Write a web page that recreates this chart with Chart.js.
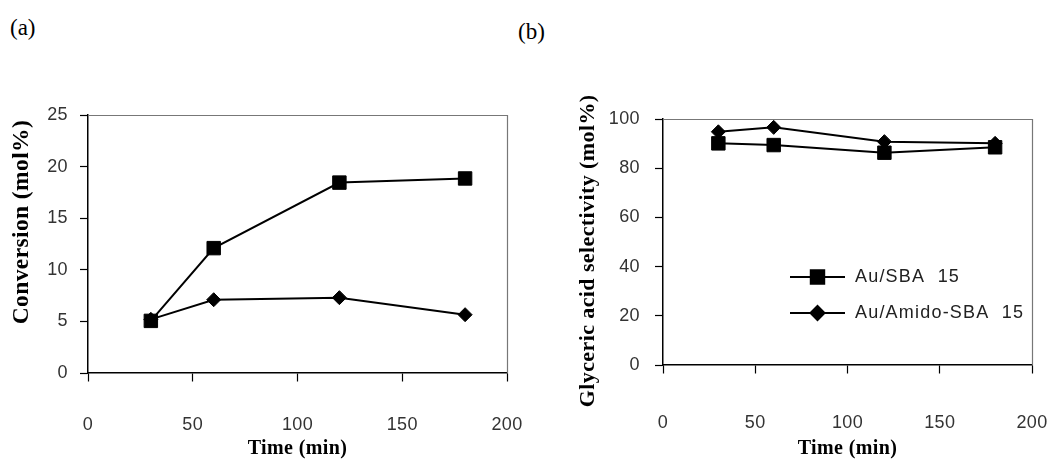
<!DOCTYPE html>
<html>
<head>
<meta charset="utf-8">
<script src="https://cdn.jsdelivr.net/npm/chart.js@4.4.0/dist/chart.umd.min.js"></script>
<style>
  html, body { margin: 0; padding: 0; background: #fff; }
  #wrap { position: relative; width: 1051px; height: 461px; overflow: hidden; }
  .panel { position: absolute; top: 0; height: 461px; }
  .tag { position: absolute; font-family: "Liberation Serif", "Times New Roman", serif; font-size: 23px; color: #000; line-height: 1; }
</style>
</head>
<body>
<div id="wrap">
  <div class="tag" style="left:10px; top:16px;">(a)</div>
  <div class="tag" style="left:518px; top:20px;">(b)</div>
  <div class="panel" style="left:0; width:530px;"><canvas id="ca" width="530" height="461"></canvas></div>
  <div class="panel" style="left:530px; width:521px;"><canvas id="cb" width="521" height="461"></canvas></div>
</div>
<script>
// ---- data ----
const timeMin = [30, 60, 120, 180];
const seriesNames = ['Au/SBA  15', 'Au/Amido-SBA  15'];
const conversionSBA = [5.05, 12.1, 18.45, 18.85];
const conversionAmido = [5.2, 7.1, 7.3, 5.65];
const selectivitySBA = [90.1, 89.4, 86.3, 88.5];
const selectivityAmido = [94.8, 96.6, 90.8, 90.1];
const xTicks = [0, 50, 100, 150, 200];
const convTicks = [0, 5, 10, 15, 20, 25];
const selTicks = [0, 20, 40, 60, 80, 100];

const tickFont = { family: '"Liberation Sans", Arial, sans-serif', size: 18 };
const titleFontFamily = '"Liberation Serif", "Times New Roman", serif';

function pts(xs, ys) { return xs.map((x, i) => ({ x: x, y: ys[i] })); }

function ds(label, xs, ys, shape, r) {
  return {
    label: label,
    data: pts(xs, ys),
    borderColor: '#000',
    backgroundColor: '#000',
    borderWidth: 2,
    pointStyle: shape,
    pointRadius: r,
    pointHoverRadius: r,
    pointBorderWidth: 1,
    pointBorderColor: '#000',
    pointBackgroundColor: '#000',
    tension: 0,
    fill: false
  };
}

const framePlugin = {
  id: 'frame',
  afterDraw(chart) {
    const a = chart.chartArea, c = chart.ctx;
    c.save();
    c.strokeStyle = '#777';
    c.lineWidth = 1.2;
    c.beginPath();
    c.moveTo(a.left, a.top + 0.5);
    c.lineTo(a.right + 0.5, a.top + 0.5);
    c.lineTo(a.right + 0.5, a.bottom);
    c.stroke();
    c.restore();
  }
};

const spacingPlugin = {
  id: 'spacing',
  beforeDraw(chart) { chart.ctx.letterSpacing = '0.4px'; }
};

const legendPlugin = {
  id: 'inlegend',
  afterDraw(chart, args, opts) {
    if (!opts || !opts.show) return;
    const a = chart.chartArea, c = chart.ctx;
    const x0 = a.left + opts.dx, lineLen = opts.lineLen;
    chart.data.datasets.forEach((d, i) => {
      const y = a.top + opts.dy + i * opts.rowGap;
      c.save();
      c.strokeStyle = d.borderColor;
      c.lineWidth = d.borderWidth;
      c.beginPath();
      c.moveTo(x0, y);
      c.lineTo(x0 + lineLen, y);
      c.stroke();
      Chart.helpers.drawPoint(c, { pointStyle: d.pointStyle, radius: d.pointRadius, borderWidth: 1 }, x0 + lineLen / 2, y);
      c.fillStyle = '#000';
      c.fill();
      c.font = '18px "Liberation Sans", Arial, sans-serif';
      c.letterSpacing = '1.2px';
      c.fillStyle = '#222';
      c.textBaseline = 'middle';
      c.textAlign = 'left';
      c.fillText(d.label, x0 + lineLen + opts.textGap, y);
      c.restore();
    });
  }
};

function makeChart(id, datasets, yTicks, yTitle, cfg) {
  return new Chart(document.getElementById(id), {
    type: 'line',
    data: { datasets: datasets },
    plugins: [spacingPlugin, framePlugin, legendPlugin],
    options: {
      responsive: false,
      animation: false,
      events: [],
      layout: { padding: { top: cfg.top, right: cfg.right, left: 0, bottom: 0 } },
      plugins: {
        legend: { display: false },
        tooltip: { enabled: false },
        inlegend: cfg.legend
      },
      scales: {
        x: {
          type: 'linear',
          min: xTicks[0], max: xTicks[xTicks.length - 1],
          afterBuildTicks: s => { s.ticks = xTicks.map(v => ({ value: v })); },
          afterFit: s => { s.height = cfg.xHeight; },
          border: { display: true, color: '#000', width: 1.5 },
          grid: { display: true, drawOnChartArea: false, drawTicks: true, tickLength: cfg.xTickLen, tickBorderDash: [8, 1000], tickColor: '#000', tickWidth: 1.2 },
          ticks: { font: tickFont, color: '#333', padding: 0, maxRotation: 0 },
          title: { display: true, text: 'Time (min)', color: '#000', font: { family: titleFontFamily, size: 20, weight: 'bold' }, padding: { top: 0, bottom: 0 } }
        },
        y: {
          type: 'linear',
          min: yTicks[0], max: yTicks[yTicks.length - 1],
          afterBuildTicks: s => { s.ticks = yTicks.map(v => ({ value: v })); },
          afterFit: s => { s.width = cfg.yWidth; },
          border: { display: true, color: '#000', width: 1.5 },
          grid: { display: true, drawOnChartArea: false, drawTicks: true, tickLength: 8, tickColor: '#000', tickWidth: 1.2 },
          ticks: { font: tickFont, color: '#333', padding: cfg.yTickPad },
          title: { display: true, text: yTitle, color: '#000', font: { family: titleFontFamily, size: cfg.yTitleSize, weight: 'bold' }, padding: { top: cfg.yTitlePad, bottom: 0 } }
        }
      }
    }
  });
}

makeChart('ca', [
  ds(seriesNames[0], timeMin, conversionSBA, 'rect', 9.5),
  ds(seriesNames[1], timeMin, conversionAmido, 'rectRot', 7)
], convTicks, '       Conversion (mol%)', {
  top: 115, right: 23, xHeight: 88, yWidth: 88, xTickLen: 41, yTickPad: 12,
  yTitleSize: 23.5, yTitlePad: 8, legend: { show: false }
});

makeChart('cb', [
  ds(seriesNames[0], timeMin, selectivitySBA, 'rect', 9.5),
  ds(seriesNames[1], timeMin, selectivityAmido, 'rectRot', 7)
], selTicks, 'Glyceric acid selectivity (mol%)   ', {
  top: 119, right: 19, xHeight: 96, yWidth: 133, xTickLen: 47, yTickPad: 15,
  yTitleSize: 22, yTitlePad: 45,
  legend: { show: true, dx: 127, dy: 158, rowGap: 36, lineLen: 55, textGap: 10 }
});
</script>
</body>
</html>
